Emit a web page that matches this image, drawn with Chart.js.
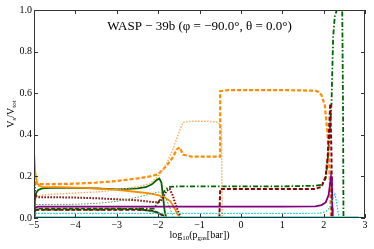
<!DOCTYPE html>
<html>
<head>
<meta charset="utf-8">
<script src="https://cdn.jsdelivr.net/npm/chart.js@4"></script>
<style>
  html, body { margin: 0; padding: 0; background: #fff; }
</style>
</head>
<body>
<canvas id="chart" width="374" height="249"></canvas>
<script>
// axis ticks
const xTicks = [-5, -4, -3, -2, -1, 0, 1, 2, 3];
const yTicks = [0, 0.2, 0.4, 0.6, 0.8, 1.0];

// series (x = log10 p_gas, y = V_s/V_tot)
const orangeSolidX = [-5, -4.97, -4.93, -4.88, -4.8, -4.5, -4, -3.5, -3, -2.5, -2.2, -2, -1.85, -1.7, -1.6, -1.52, -1.46];
const orangeSolidY = [0.32, 0.22, 0.17, 0.155, 0.15, 0.148, 0.146, 0.142, 0.135, 0.125, 0.118, 0.11, 0.1, 0.08, 0.045, 0.015, 0];

const orangeDashX = [-5, -4.9, -4.5, -4, -3.5, -3, -2.5, -2.2, -2, -1.8, -1.65, -1.55, -1.48, -1.4, -1.2, -0.8, -0.5, -0.5, -0.3, 0, 1, 1.8, 1.9, 1.95, 2.03, 2.1, 2.14, 2.18];
const orangeDashY = [0.17, 0.163, 0.163, 0.165, 0.17, 0.178, 0.19, 0.2, 0.21, 0.25, 0.29, 0.33, 0.34, 0.305, 0.295, 0.295, 0.295, 0.61, 0.615, 0.615, 0.615, 0.612, 0.605, 0.59, 0.54, 0.39, 0.23, 0];

const orangeDotX = [-4.95, -4.8, -4.5, -4, -3.5, -3, -2.5, -2.2, -2, -1.8, -1.64, -1.5, -1.4, -1.2, -0.8, -0.55, -0.47, -0.46, -0.45];
const orangeDotY = [0.1, 0.11, 0.115, 0.12, 0.125, 0.135, 0.15, 0.165, 0.2, 0.26, 0.33, 0.41, 0.46, 0.465, 0.465, 0.46, 0.44, 0.2, 0];

const greenSolidX = [-5, -4.98, -4.95, -4.9, -4.8, -4.5, -4, -3.5, -3, -2.5, -2.3, -2.15, -2.05, -1.97, -1.92, -1.88, -1.84, -1.8];
const greenSolidY = [0, 0.08, 0.12, 0.135, 0.142, 0.146, 0.145, 0.142, 0.138, 0.142, 0.148, 0.162, 0.18, 0.19, 0.17, 0.1, 0.03, 0];

const greenDashDotX = [-5, -4.5, -4, -3.5, -3, -2.5, -2.1, -1.95, -1.85, -1.75, -1.5, -1, 0, 1, 1.8, 1.95, 2.05, 2.1, 2.15, 2.19, 2.23, 2.27, 2.32, 2.45, 2.47, 2.48];
const greenDashDotY = [0.04, 0.04, 0.04, 0.04, 0.042, 0.045, 0.045, 0.09, 0.13, 0.15, 0.152, 0.152, 0.152, 0.152, 0.155, 0.16, 0.19, 0.28, 0.42, 0.55, 0.87, 0.97, 1.0, 1.0, 0.5, 0];

const greenDashX = [-5, -4.9, -4, -3, -2.5, -2.2, -2, -1.9, -1.82];
const greenDashY = [0.03, 0.045, 0.045, 0.045, 0.042, 0.035, 0.025, 0.012, 0];

const greenDotX = [-4.95, -4.5, -4, -3.5, -3, -2.5, -2.2, -2, -1.9, -1.8, -1.7, -1.62];
const greenDotY = [0.065, 0.065, 0.066, 0.07, 0.08, 0.1, 0.115, 0.125, 0.12, 0.09, 0.04, 0];

const maroonDotX = [-5, -5, -4.97, -4.9, -4.5, -4, -3.5, -3, -2.5, -2.2, -2, -1.9, -1.8, -1.72, -1.65, -1.55, -1.45];
const maroonDotY = [1.0, 0.2, 0.11, 0.1, 0.1, 0.098, 0.095, 0.09, 0.085, 0.078, 0.075, 0.09, 0.13, 0.14, 0.11, 0.05, 0];

const maroonDashX = [-4.97, -4.5, -4, -3, -2.5, -2.1, -1.9, -1.8, -0.52, -0.5, -0.45, 0, 1, 1.8, 1.95, 2.05, 2.1, 2.13, 2.16, 2.19, 2.2];
const maroonDashY = [0.04, 0.04, 0.04, 0.04, 0.04, 0.035, 0.015, 0, 0, 0.14, 0.14, 0.14, 0.14, 0.14, 0.15, 0.2, 0.3, 0.42, 0.55, 0.3, 0];

const purpleX = [-4.97, -4.9, -4, -3, -2, -1, 0, 1, 1.8, 1.95, 2.05, 2.12, 2.16, 2.18, 2.2, 2.21, 2.22];
const purpleY = [0.05, 0.055, 0.055, 0.055, 0.055, 0.055, 0.055, 0.055, 0.056, 0.062, 0.075, 0.11, 0.17, 0.2, 0.18, 0.05, 0];

const cyanDotX = [-4.97, -4, -3, -2, -1, 0, 1, 1.9, 2.05, 2.15, 2.22, 2.27, 2.31, 2.35, 2.38];
const cyanDotY = [0.022, 0.022, 0.022, 0.022, 0.022, 0.022, 0.022, 0.023, 0.03, 0.05, 0.09, 0.12, 0.08, 0.03, 0];

const cyanSolidX = [-4.97, -2, 0, 2, 2.5, 2.85];
const cyanSolidY = [0.005, 0.005, 0.005, 0.005, 0.005, 0.005];

const blueDashX = [-4.97, -2, 0, 2, 2.4];
const blueDashY = [0.001, 0.001, 0.001, 0.001, 0.001];

function pts(xs, ys) {
  return xs.map((x, i) => ({ x: x, y: ys[i] }));
}

function line(xs, ys, color, width, dash) {
  return {
    data: pts(xs, ys),
    borderColor: color,
    borderWidth: width,
    borderDash: dash || [],
    pointRadius: 0,
    fill: false,
    tension: 0
  };
}

const DOT = [1.5, 1.5];
const DASH = [4, 2];
const DASHDOT = [5, 2, 1.5, 2];

const datasets = [
  line(blueDashX, blueDashY, '#4682b4', 1.2, DASH),
  line(cyanSolidX, cyanSolidY, '#40e0d0', 1.5),
  line(cyanDotX, cyanDotY, '#00ced1', 1.2, DOT),
  line(purpleX, purpleY, '#800080', 1.8),
  line(greenDotX, greenDotY, '#4f9f4f', 1, DOT),
  line(greenDashX, greenDashY, '#006400', 1.8, DASH),
  line(maroonDashX, maroonDashY, '#8b0000', 2, DASH),
  line(maroonDotX, maroonDotY, '#8b0000', 2, DOT),
  line(orangeDotX, orangeDotY, '#ffaa55', 1.4, DOT),
  line(orangeSolidX, orangeSolidY, '#ff8c00', 1.8),
  line(orangeDashX, orangeDashY, '#ff8c00', 2.2, DASH),
  line(greenSolidX, greenSolidY, '#006400', 1.8),
  line(greenDashDotX, greenDashDotY, '#006400', 1.8, DASHDOT)
];

const SERIF = '"Liberation Serif", "DejaVu Serif", serif';

// frame, inward ticks on all sides, title and axis labels
const decor = {
  id: 'decor',
  afterDraw(chart) {
    const { ctx, chartArea: a, scales } = chart;
    ctx.save();
    ctx.strokeStyle = '#333';
    ctx.lineWidth = 1;
    ctx.strokeRect(a.left + 0.5, a.top + 0.5, a.right - a.left - 1, a.bottom - a.top - 1);
    ctx.beginPath();
    xTicks.forEach(v => {
      const px = Math.round(scales.x.getPixelForValue(v)) + 0.5;
      ctx.moveTo(px, a.bottom); ctx.lineTo(px, a.bottom - 4);
      ctx.moveTo(px, a.top); ctx.lineTo(px, a.top + 4);
    });
    yTicks.forEach(v => {
      const py = Math.round(scales.y.getPixelForValue(v)) + 0.5;
      ctx.moveTo(a.left, py); ctx.lineTo(a.left + 4, py);
      ctx.moveTo(a.right, py); ctx.lineTo(a.right - 4, py);
    });
    ctx.stroke();

    ctx.fillStyle = '#000';
    ctx.textBaseline = 'middle';
    ctx.textAlign = 'center';
    ctx.font = '13px ' + SERIF;
    ctx.fillText('WASP \u2212 39b (\u03c6 = \u221290.0\u00b0, \u03b8 = 0.0\u00b0)', (a.left + a.right) / 2, 27);

    // x label: log10(p_gas[bar])
    const parts = [
      ['log', 10, 0], ['10', 7, 3], ['(p', 10, 0], ['gas', 7, 3], ['[bar])', 10, 0]
    ];
    let total = 0;
    parts.forEach(p => { ctx.font = p[1] + 'px ' + SERIF; total += ctx.measureText(p[0]).width; });
    let x = (a.left + a.right) / 2 - total / 2;
    ctx.textAlign = 'left';
    parts.forEach(p => {
      ctx.font = p[1] + 'px ' + SERIF;
      ctx.fillText(p[0], x, 235 + p[2]);
      x += ctx.measureText(p[0]).width;
    });

    // y label: V_s/V_tot
    ctx.translate(11, (a.top + a.bottom) / 2);
    ctx.rotate(-Math.PI / 2);
    const yparts = [['V', 10, 0], ['s', 7, 3], ['/V', 10, 0], ['tot', 7, 3]];
    total = 0;
    yparts.forEach(p => { ctx.font = p[1] + 'px ' + SERIF; total += ctx.measureText(p[0]).width; });
    x = -total / 2;
    yparts.forEach(p => {
      ctx.font = p[1] + 'px ' + SERIF;
      ctx.fillText(p[0], x, p[2]);
      x += ctx.measureText(p[0]).width;
    });
    ctx.restore();
  }
};

new Chart(document.getElementById('chart'), {
  type: 'line',
  data: { datasets: datasets },
  options: {
    responsive: false,
    animation: false,
    devicePixelRatio: 1,
    layout: { padding: { top: 10, right: 9, left: 0, bottom: 0 } },
    plugins: { legend: { display: false }, tooltip: { enabled: false } },
    scales: {
      x: {
        type: 'linear',
        min: -5,
        max: 3,
        afterFit: s => { s.height = 31; },
        afterBuildTicks: s => { s.ticks = xTicks.map(v => ({ value: v })); },
        grid: { display: false, drawTicks: false, tickLength: 0 },
        border: { display: false },
        ticks: {
          padding: 1,
          color: '#000',
          font: { family: SERIF, size: 10 },
          callback: v => String(v).replace('-', '\u2212')
        }
      },
      y: {
        min: 0,
        max: 1,
        afterFit: s => { s.width = 34; },
        afterBuildTicks: s => { s.ticks = yTicks.map(v => ({ value: v })); },
        grid: { display: false, drawTicks: false, tickLength: 0 },
        border: { display: false },
        ticks: {
          padding: 2,
          color: '#000',
          font: { family: SERIF, size: 10 },
          callback: v => v.toFixed(1)
        }
      }
    }
  },
  plugins: [decor]
});
</script>
</body>
</html>
